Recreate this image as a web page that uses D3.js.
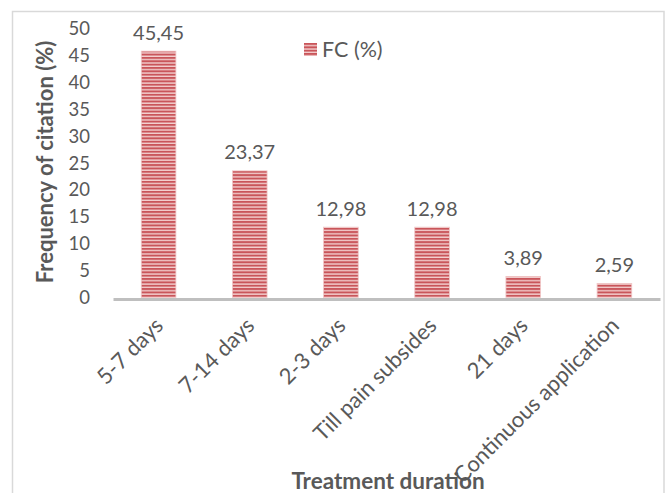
<!DOCTYPE html>
<html>
<head>
<meta charset="utf-8">
<script src="https://cdn.jsdelivr.net/npm/d3@7"></script>
<style>
  html, body { margin: 0; padding: 0; background: #fff; }
  svg { display: block; }
  text { font-family: Lato, "Open Sans", "Liberation Sans", sans-serif; fill: #595959; }
</style>
</head>
<body>
<svg id="chart" width="667" height="493"></svg>
<script>
// Treatment duration vs. frequency of citation
const categories = ["5-7 days", "7-14 days", "2-3 days", "Till pain subsides", "21 days", "Continuous application"];
const values = [45.45, 23.37, 12.98, 12.98, 3.89, 2.59];
const valueLabels = ["45,45", "23,37", "12,98", "12,98", "3,89", "2,59"];
const yTicks = [0, 5, 10, 15, 20, 25, 30, 35, 40, 45, 50];
const seriesName = "FC (%)";

const svg = d3.select("#chart");
const plot = { left: 113, right: 660, top: 26.5, bottom: 297.5 };

// Chart area frame
svg.append("rect")
  .attr("x", 12.5).attr("y", 11.5)
  .attr("width", 651.5).attr("height", 500)
  .attr("fill", "#fff").attr("stroke", "#d9d9d9").attr("stroke-width", 1.5);

// Striped fill for the bars
const defs = svg.append("defs");
const pat = defs.append("pattern")
  .attr("id", "stripes").attr("patternUnits", "userSpaceOnUse")
  .attr("width", 10).attr("height", 3.35);
pat.append("rect").attr("width", 10).attr("height", 3.35).attr("fill", "#f4d2d1");
pat.append("rect").attr("width", 10).attr("height", 2.0).attr("fill", "#c9555a");

const x = d3.scaleBand()
  .domain(categories)
  .range([plot.left, plot.right])
  .paddingInner(0.62)
  .paddingOuter(0.31);

const y = d3.scaleLinear().domain([0, 50]).range([plot.bottom, plot.top]);

// Y tick labels (no axis line, no tick marks)
const yAxis = svg.append("g")
  .attr("transform", `translate(${plot.left - 23},0)`)
  .call(d3.axisLeft(y).tickValues(yTicks).tickSize(0).tickPadding(0).tickFormat(d3.format("d")));
yAxis.select(".domain").remove();
yAxis.selectAll("text")
  .attr("font-size", 18.5).attr("fill", "#595959")
  .attr("font-family", "Lato, 'Open Sans', sans-serif")
  .attr("dy", (d) => (0.32 + 0.12 * d / 50) + "em");

// Bars
svg.append("g").selectAll("rect")
  .data(values)
  .join("rect")
  .attr("x", (d, i) => x(categories[i]))
  .attr("y", d => y(d))
  .attr("width", x.bandwidth())
  .attr("height", d => y(0) - y(d))
  .attr("fill", "url(#stripes)")
  .attr("stroke", "#f0c6c6").attr("stroke-width", 0.8);

// Value labels
svg.append("g").selectAll("text")
  .data(values)
  .join("text")
  .attr("x", (d, i) => x(categories[i]) + x.bandwidth() / 2)
  .attr("y", d => y(d) - 11.5)
  .attr("text-anchor", "middle")
  .attr("font-size", 20)
  .text((d, i) => valueLabels[i]);

// X axis line
const xAxis = svg.append("g")
  .attr("transform", `translate(0,${plot.bottom + 1.5})`)
  .call(d3.axisBottom(x).tickSize(0).tickPadding(0));
xAxis.select(".domain").attr("stroke", "#bfbfbf").attr("stroke-width", 3);

// Axis titles
svg.append("text")
  .attr("x", 388).attr("y", 489)
  .attr("text-anchor", "middle")
  .attr("font-size", 22.5).attr("font-weight", "bold")
  .text("Treatment duration");

svg.append("text")
  .attr("transform", "translate(53,162) rotate(-90)")
  .attr("text-anchor", "middle")
  .attr("font-size", 22).attr("font-weight", "bold")
  .text("Frequency of citation (%)");

// Category labels, rotated 45 degrees
xAxis.selectAll("text")
  .attr("font-size", 22).attr("fill", "#595959")
  .attr("font-family", "Lato, 'Open Sans', sans-serif")
  .attr("text-anchor", "end")
  .attr("dy", 0)
  .attr("transform", "translate(6,28) rotate(-45)");
xAxis.raise();

// Legend
const lg = svg.append("g").attr("transform", "translate(304,43)");
lg.append("rect").attr("width", 13).attr("height", 13).attr("fill", "url(#stripes)");
lg.append("text").attr("x", 18).attr("y", 13.5).attr("font-size", 21.5).text(seriesName);
</script>
</body>
</html>
